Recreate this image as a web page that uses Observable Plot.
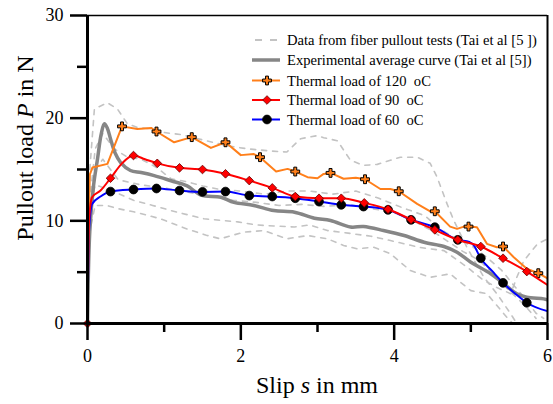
<!DOCTYPE html>
<html>
<head>
<meta charset="utf-8">
<script src="https://cdn.jsdelivr.net/npm/d3@7"></script>
<script src="https://cdn.jsdelivr.net/npm/@observablehq/plot@0.6"></script>
<style>
  html, body { margin: 0; padding: 0; background: #fff; }
  #chart svg { display: block; }
  #chart svg text { font-family: 'Liberation Serif', 'Times New Roman', serif !important; }
</style>
</head>
<body>
<div id="chart"></div>
<script>
// ---- tick values / labels ----
const xMajorTicks = [0, 2, 4, 6];
const xMinorTicks = [1, 3, 5];
const yMajorTicks = [0, 10, 20, 30];
const yMinorTicks = [5, 15, 25];

const xTitle = ["Slip ", "s", " in mm"];
const yTitle = ["Pullout load ", "P", " in N"];

const legendLabels = [
  "Data from fiber pullout tests (Tai et al [5 ])",
  "Experimental average curve (Tai et al [5])",
  "Thermal load of 120  oC",
  "Thermal load of 90  oC",
  "Thermal load of 60  oC"
];

// ---- experimental tests (dashed) [slip, load] ----
const testA = [[0,0],[0.03,15],[0.09,20.9],[0.26,21.5],[0.39,20.9],[0.52,19.45],[0.65,19.1],[0.78,19],[1.0,18.6],[1.22,18.4],[1.55,17.8],[1.83,17.3],[2.1,17.0],[2.4,16.8],[2.6,16.7],[2.78,18],[3.0,18.3],[3.08,18.1],[3.26,17.8],[3.43,15.9],[3.6,15.4],[3.78,15.5],[4.08,16.2],[4.3,16.2],[4.47,15.6],[4.56,14.25],[4.69,11.65],[4.78,10],[4.95,7.4],[5.17,4.5],[5.34,2.9],[5.52,0.94],[5.6,0]];
const testB = [[0,0],[0.03,12],[0.1,17],[0.2,18.5],[0.35,17],[0.5,16.3],[0.7,16.0],[0.9,15.2],[1.09,14.1],[1.3,13.8],[1.5,13.4],[1.7,13.1],[2.0,12.9],[2.3,12.6],[2.6,12.9],[2.9,12.9],[3.2,12.6],[3.5,12.9],[3.8,12.2],[4.1,11.3],[4.4,10.5],[4.6,9.2],[4.8,8.3],[5.0,7.6],[5.2,6.5],[5.4,5.2],[5.55,3.8],[5.7,2.5],[5.85,1.0],[5.95,0.5]];
const testC = [[0,0],[0.03,9],[0.1,11.5],[0.25,11.5],[0.39,11.2],[0.65,10.8],[0.95,10.2],[1.3,9.2],[1.55,8.6],[1.73,8.25],[2.04,8.9],[2.3,9.05],[2.6,8.25],[2.87,8.57],[3.13,8.25],[3.34,7.6],[3.52,7.27],[3.73,7.43],[3.95,6.8],[4.21,5.16],[4.47,4.5],[4.73,4.84],[5.0,3.2],[5.21,2.9],[5.47,0.6],[5.55,0]];
const testD = [[0,0],[0.03,11],[0.1,13.5],[0.3,13],[0.6,12],[0.85,11.5],[1.09,11],[1.3,10.6],[1.52,10.2],[1.96,9.9],[2.2,9.6],[2.43,9.5],[2.7,9.4],[2.9,9.6],[3.13,9.05],[3.4,8.8],[3.7,8.5],[3.95,8.08],[4.34,7.4],[4.65,7.1],[4.95,5.5],[5.15,4.3],[5.34,3.5],[5.52,2.9],[5.6,4.5],[5.69,6.1],[5.87,7.76],[6.0,8.25]];
const testE = [[0,0],[0.03,12],[0.1,15],[0.2,16],[0.4,14],[0.7,13.5],[1.0,13.2],[1.3,12.8],[1.6,12.4],[1.9,12.0],[2.2,11.8],[2.5,11.5],[2.8,11.6],[3.1,11.4],[3.4,11.6],[3.7,11.2],[4.0,10.8],[4.3,9.8],[4.5,9.0],[4.7,8.0],[4.9,7.0],[5.1,6.2],[5.3,4.8],[5.5,3.2],[5.7,1.8],[5.85,0.5]];

// ---- experimental average curve ----
const avgCurve = [[0,0],[0.03,9],[0.08,13.5],[0.13,16],[0.18,18.5],[0.22,19.45],[0.26,19.0],[0.3,18],[0.36,16.6],[0.43,15.7],[0.56,14.9],[0.7,14.7],[0.87,14.4],[1.09,13.9],[1.3,13.4],[1.48,12.5],[1.74,12.3],[1.91,11.8],[2.17,11.5],[2.43,11.0],[2.7,10.84],[2.96,10.25],[3.17,10.03],[3.43,9.4],[3.6,9.44],[3.86,9.06],[4.13,8.57],[4.39,7.92],[4.65,7.5],[4.82,6.94],[5.0,5.97],[5.26,4.84],[5.43,3.87],[5.6,2.9],[5.73,2.56],[5.95,2.4],[6.0,2.3]];

// ---- thermal load 120 oC ----
const load120 = [[0,0],[0.01,8],[0.03,14.5],[0.065,15.2],[0.26,15.55],[0.45,19.2],[0.65,18.95],[0.83,19.05],[0.9,18.7],[1.13,17.65],[1.36,18.15],[1.61,17.1],[1.8,17.65],[2.0,16.4],[2.17,16.5],[2.25,16.2],[2.46,14.8],[2.61,15.06],[2.71,14.8],[2.87,14.25],[3.0,14.15],[3.08,14.57],[3.17,14.67],[3.34,14.1],[3.5,14.2],[3.62,14.05],[3.82,13.1],[3.95,13.1],[4.06,12.88],[4.3,11.65],[4.47,10.93],[4.53,10.93],[4.73,9.44],[4.82,9.22],[4.91,9.44],[4.97,9.44],[5.08,9.38],[5.21,7.76],[5.34,7.43],[5.42,7.5],[5.56,6.46],[5.73,5.33],[5.88,4.9],[6.0,4.4]];
const load120Marks = [[0.45,19.2],[0.9,18.7],[1.36,18.15],[1.8,17.65],[2.25,16.2],[2.71,14.8],[3.17,14.67],[3.62,14.05],[4.06,12.88],[4.53,10.93],[4.97,9.44],[5.42,7.5],[5.88,4.9]];

// ---- thermal load 90 oC ----
const load90 = [[0,0],[0.02,10],[0.06,12.3],[0.17,12.95],[0.3,14.15],[0.45,15.6],[0.6,16.36],[0.75,16.0],[0.91,15.6],[1.2,15.16],[1.5,15.0],[1.8,14.58],[2.11,13.92],[2.41,13.21],[2.71,12.37],[3.02,12.2],[3.31,12.2],[3.61,11.75],[3.92,11.13],[4.22,10.13],[4.53,9.12],[4.83,8.15],[5.13,7.5],[5.42,6.36],[5.73,5.06],[6.0,3.75]];
const load90Marks = [[0,0],[0.3,14.15],[0.6,16.36],[0.91,15.6],[1.2,15.16],[1.5,15.0],[1.8,14.58],[2.11,13.92],[2.41,13.21],[2.71,12.37],[3.02,12.2],[3.31,12.2],[3.61,11.75],[3.92,11.13],[4.22,10.13],[4.53,9.12],[4.83,8.15],[5.13,7.5],[5.42,6.36],[5.73,5.06]];

// ---- thermal load 60 oC ----
const load60 = [[0,0],[0.02,9],[0.06,11.65],[0.17,12.37],[0.3,12.85],[0.6,13.05],[0.9,13.15],[1.2,12.95],[1.5,12.82],[1.8,12.85],[2.11,12.46],[2.41,12.37],[2.71,12.2],[3.02,11.88],[3.31,11.56],[3.6,11.39],[3.92,11.07],[4.22,10.1],[4.53,9.38],[4.83,8.15],[4.98,7.95],[5.05,7.5],[5.09,6.9],[5.13,6.36],[5.28,5.1],[5.42,3.96],[5.58,2.9],[5.73,2.02],[6.0,1.2]];
const load60Marks = [[0.3,12.85],[0.6,13.05],[0.9,13.15],[1.2,12.95],[1.5,12.82],[1.8,12.85],[2.11,12.46],[2.41,12.37],[2.71,12.2],[3.02,11.88],[3.31,11.56],[3.6,11.39],[3.92,11.07],[4.22,10.1],[4.53,9.38],[4.83,8.15],[5.13,6.36],[5.42,3.96],[5.73,2.02]];

// ---- styles ----
const C_TEST = "#c3c3c3", C_AVG = "#868686", C_120 = "#ff7f1a", C_90 = "#ff0000", C_60 = "#0000ff";
const FONT = "'Liberation Serif', 'Times New Roman', serif";
const R120 = 3.7, R90 = 3.9, R60 = 4.4;

const X = d => d[0], Y = d => d[1];
const tests = [testA, testB, testC, testD, testE];

const chart = Plot.plot({
  width: 553,
  height: 404,
  marginLeft: 87,
  marginRight: 6,
  marginTop: 15,
  marginBottom: 81,
  style: { fontFamily: FONT, background: "#fff", color: "#000" },
  x: { domain: [0, 6] },
  y: { domain: [0, 30] },
  marks: [
    ...tests.map(t => Plot.line(t, { x: X, y: Y, stroke: C_TEST, strokeWidth: 1.6, strokeDasharray: "5,6", clip: true })),
    Plot.line(avgCurve, { x: X, y: Y, stroke: C_AVG, strokeWidth: 3.5, curve: "catmull-rom", clip: true }),
    Plot.line(load60, { x: X, y: Y, stroke: C_60, strokeWidth: 2, curve: "monotone-x", clip: true }),
    Plot.dot(load60Marks, { x: X, y: Y, r: R60, fill: "#000", stroke: "#000", strokeWidth: 0.8 }),
    Plot.line(load120, { x: X, y: Y, stroke: C_120, strokeWidth: 2, clip: true }),
    Plot.dot(load120Marks, { x: X, y: Y, r: R120, symbol: "cross", fill: C_120, stroke: "#000", strokeWidth: 1 }),
    Plot.line(load90, { x: X, y: Y, stroke: C_90, strokeWidth: 2, curve: "monotone-x", clip: true }),
    Plot.dot(load90Marks, { x: X, y: Y, r: R90, symbol: "diamond2", fill: C_90, stroke: "#600", strokeWidth: 0.8 }),
    // frame (top / right)
    Plot.ruleY([30], { stroke: "#000", strokeWidth: 1.6 }),
    Plot.ruleX([6], { stroke: "#000", strokeWidth: 2 }),
    // axes
    Plot.axisY(yMinorTicks, { tickSize: 10, tickFormat: () => "", strokeWidth: 2.5, label: null }),
    Plot.axisY(yMajorTicks, { tickSize: 17, tickPadding: 7, strokeWidth: 2.5, fontSize: 18, label: null }),
    Plot.axisX(xMinorTicks, { tickSize: 9, tickFormat: () => "", strokeWidth: 2.5, label: null }),
    Plot.axisX(xMajorTicks, { tickSize: 17, tickPadding: 9, strokeWidth: 2.5, fontSize: 18, label: null }),
    Plot.ruleX([0], { stroke: "#000", strokeWidth: 3 }),
    Plot.ruleY([0], { stroke: "#000", strokeWidth: 3 })
  ]
});

document.getElementById("chart").appendChild(chart);

// ---- axis titles & legend (added to the same SVG) ----
const svg = d3.select(chart);

function titled(g, parts, size) {
  const t = g.append("text").attr("font-size", size).attr("fill", "#000").attr("text-anchor", "middle");
  parts.forEach((p, i) => t.append("tspan").text(p).attr("font-style", i === 1 ? "italic" : "normal"));
  return t;
}
titled(svg, xTitle, 24).attr("x", 317).attr("y", 393);
titled(svg, yTitle, 24).attr("transform", "translate(33,148) rotate(-90)");

const leg = svg.append("g").attr("font-size", 14.6).attr("text-anchor", "start");
const rowsY = [40, 60, 80.5, 100, 119.5];
const lx0 = 252, lx1 = 280, lxm = 267, ltx = 287;

leg.append("line").attr("x1", 255).attr("x2", 277).attr("y1", rowsY[0]).attr("y2", rowsY[0])
  .attr("stroke", C_TEST).attr("stroke-width", 2).attr("stroke-dasharray", "7,8");
leg.append("line").attr("x1", lx0).attr("x2", lx1).attr("y1", rowsY[1]).attr("y2", rowsY[1])
  .attr("stroke", C_AVG).attr("stroke-width", 3.5);
[[C_120, d3.symbolCross, R120, C_120, "#000", 1],
 [C_90, d3.symbolDiamond2, R90, C_90, "#600", 0.8],
 [C_60, d3.symbolCircle, R60, "#000", "#000", 0.8]].forEach(([c, sym, r, f, s, sw], i) => {
  const y = rowsY[i + 2];
  leg.append("line").attr("x1", lx0).attr("x2", lx1).attr("y1", y).attr("y2", y).attr("stroke", c).attr("stroke-width", 2);
  leg.append("path").attr("d", d3.symbol(sym, Math.PI * r * r)()).attr("transform", `translate(${lxm},${y})`)
    .attr("fill", f).attr("stroke", s).attr("stroke-width", sw);
});
legendLabels.forEach((t, i) => {
  leg.append("text").attr("x", ltx).attr("y", rowsY[i]).attr("dy", "0.35em").attr("fill", "#000")
    .attr("text-anchor", "start").style("text-anchor", "start").text(t);
});
</script>
</body>
</html>
